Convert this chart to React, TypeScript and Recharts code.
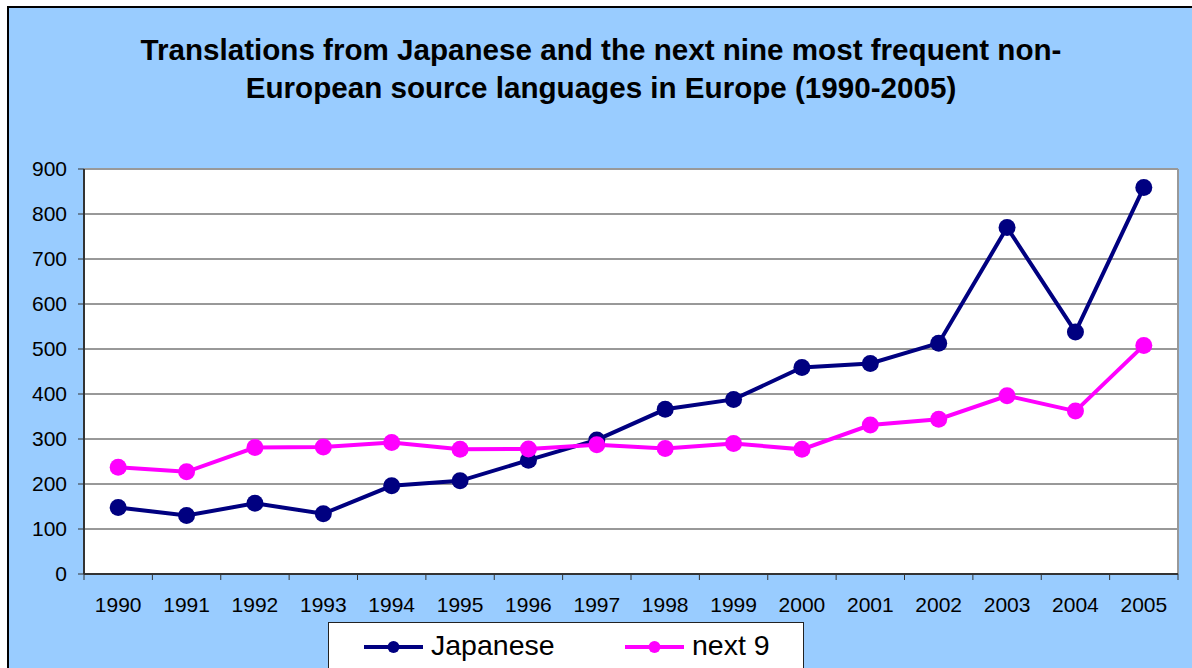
import React from 'react';
import { LineChart, Line, XAxis, YAxis, CartesianGrid, ReferenceLine } from 'recharts';

const years = ['1990', '1991', '1992', '1993', '1994', '1995', '1996', '1997', '1998', '1999', '2000', '2001', '2002', '2003', '2004', '2005'];
const japanese = [148, 130, 157, 134, 196, 207, 253, 298, 366, 388, 459, 468, 513, 770, 538, 859];
const next9 = [237, 227, 281, 282, 292, 277, 278, 287, 279, 290, 277, 331, 344, 396, 362, 508];
const yTicks = [0, 100, 200, 300, 400, 500, 600, 700, 800, 900];
const titleLines = [
  'Translations from Japanese and the next nine most frequent non-',
  'European source languages in Europe (1990-2005)',
];
const seriesNames = ['Japanese', 'next 9'];
const seriesKeys = ['japanese', 'next9'];
const seriesColors = ['#000080', '#FF00FF'];

const data = years.map((y, i) => ({ idx: i, year: y, japanese: japanese[i], next9: next9[i] }));
const boundaries = [...years.map((_, i) => i - 0.5), years.length - 0.5];
const innerGrid = yTicks.slice(1, -1);

const FONT = '"Liberation Sans", Arial, sans-serif';

const XTick = (props: any) => {
  const { x, y, width, index } = props;
  if (index >= years.length) return <g />;
  const step = (width || 1094) / years.length;
  return (
    <text x={x + step / 2} y={y} dy="0.71em" textAnchor="middle" fontSize={21} fontFamily={FONT} fill="#000">
      {years[index]}
    </text>
  );
};

export default function App() {
  return (
    <div style={{ position: 'fixed', left: 0, top: 0, width: 1192, height: 668, overflow: 'hidden', background: '#fff' }}>
      <div
        style={{
          position: 'absolute',
          left: 7,
          top: 6,
          width: 1300,
          height: 800,
          background: '#99CCFF',
          border: '2px solid #000',
        }}
      />
      <div
        style={{
          position: 'absolute',
          left: 0,
          top: 30.5,
          width: 1202,
          textAlign: 'center',
          fontFamily: FONT,
          fontWeight: 'bold',
          fontSize: 29.6,
          lineHeight: '38.5px',
          color: '#000',
          whiteSpace: 'nowrap',
        }}
      >
        {titleLines.map((t, i) => (
          <div key={i}>{t}</div>
        ))}
      </div>
      <div style={{ position: 'absolute', left: 0, top: 0 }}>
        <LineChart width={1192} height={668} data={data} margin={{ top: 169, right: 14, bottom: 54, left: 24 }}>
          <CartesianGrid vertical={false} stroke="#333" fill="#fff" fillOpacity={1} horizontalValues={innerGrid} />
          <ReferenceLine y={900} stroke="#999" strokeWidth={2} ifOverflow="visible" />
          <ReferenceLine x={years.length - 0.5} stroke="#999" strokeWidth={2} ifOverflow="visible" />
          <XAxis
            xAxisId={0}
            type="number"
            dataKey="idx"
            domain={[-0.5, years.length - 0.5]}
            ticks={boundaries}
            interval={0}
            allowDataOverflow
            height={40}
            tickSize={6}
            tickMargin={17}
            tickLine={{ stroke: '#333' }}
            axisLine={{ stroke: '#333', strokeWidth: 2 }}
            tick={<XTick />}
          />
          <YAxis
            domain={[0, 900]}
            ticks={yTicks}
            interval={0}
            width={60}
            tickSize={6}
            tickMargin={11}
            tickLine={{ stroke: '#333' }}
            axisLine={{ stroke: '#333', strokeWidth: 2 }}
            tick={{ fill: '#000', fontSize: 21, fontFamily: FONT }}
          />
          {seriesKeys.map((k, i) => (
            <Line
              key={k}
              dataKey={k}
              type="linear"
              stroke={seriesColors[i]}
              strokeWidth={4}
              dot={{ r: 8.5, fill: seriesColors[i], stroke: seriesColors[i], strokeWidth: 0 }}
              activeDot={false}
              isAnimationActive={false}
            />
          ))}
        </LineChart>
      </div>
      <svg style={{ position: 'absolute', left: 328, top: 622 }} width={480} height={60}>
        <rect x={0.5} y={0.5} width={475} height={80} fill="#fff" stroke="#222" strokeWidth={1} />
        {seriesNames.map((n, i) => {
          const x0 = 36 + i * 261;
          return (
            <g key={n}>
              <line x1={x0} x2={x0 + 59} y1={25} y2={25} stroke={seriesColors[i]} strokeWidth={4} />
              <circle cx={x0 + 29.5} cy={25} r={6} fill={seriesColors[i]} />
              <text x={x0 + 67} y={33} fontSize={28.5} fontFamily={FONT} fill="#000">
                {n}
              </text>
            </g>
          );
        })}
      </svg>
    </div>
  );
}
